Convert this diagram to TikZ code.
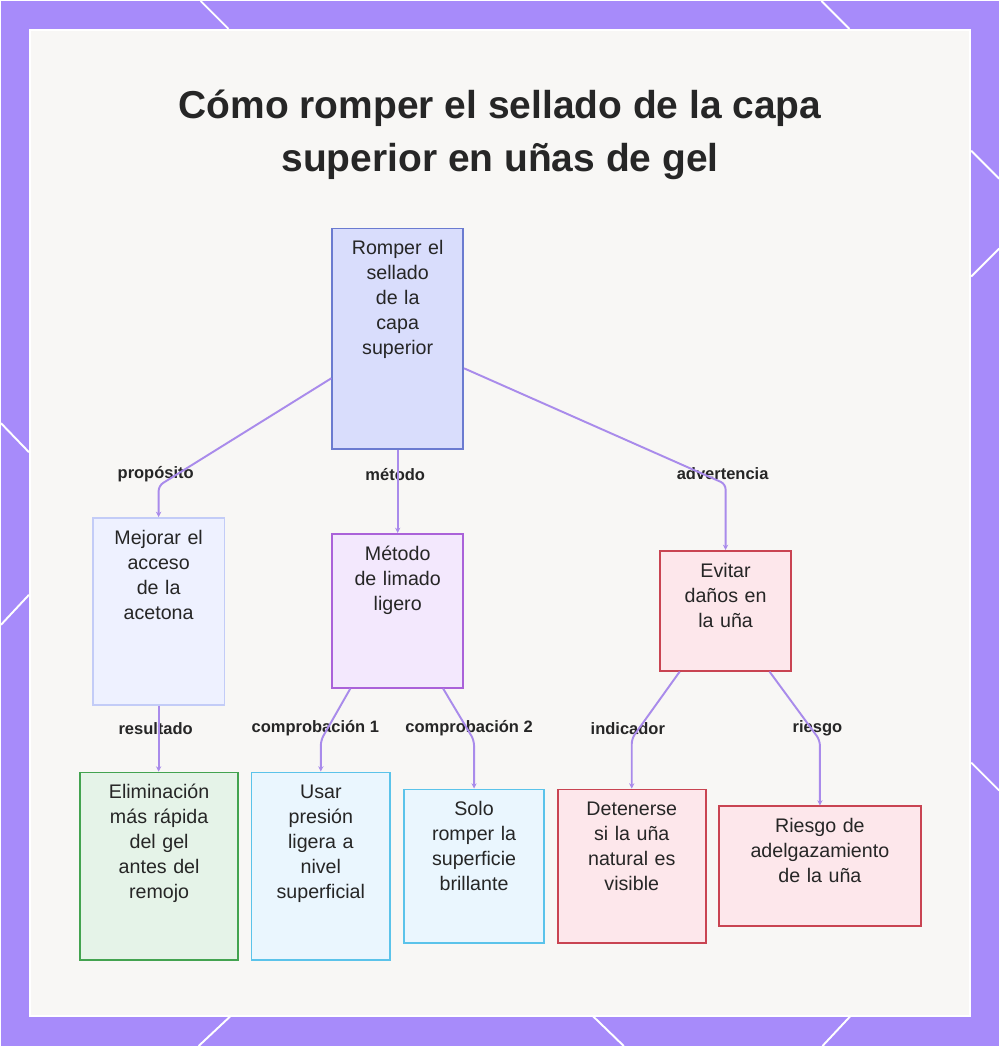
\documentclass[tikz,border=0pt]{standalone}
\usepackage{fontspec}
\setmainfont{Liberation Sans}
\usetikzlibrary{positioning, arrows.meta, calc}

\definecolor{frame}{HTML}{A78BFA}
\definecolor{panel}{HTML}{F8F7F5}
\definecolor{lilac}{HTML}{A98BEB}
\definecolor{ink}{HTML}{262626}
\definecolor{rootfill}{HTML}{D9DDFC}
\definecolor{rootline}{HTML}{6B7BD0}
\definecolor{palefill}{HTML}{EEF1FF}
\definecolor{paleline}{HTML}{C3CCF7}
\definecolor{violetfill}{HTML}{F3E8FD}
\definecolor{violetline}{HTML}{AA62D9}
\definecolor{redfill}{HTML}{FDE7EB}
\definecolor{redline}{HTML}{C94452}
\definecolor{greenfill}{HTML}{E5F3E8}
\definecolor{greenline}{HTML}{43A350}
\definecolor{cyanfill}{HTML}{EAF6FE}
\definecolor{cyanline}{HTML}{5BC3EA}

\begin{document}
\begin{tikzpicture}[
  x=0.02cm, y=-0.02cm,
  every node/.style={font=\fontsize{11.2pt}{14.2pt}\selectfont, text=ink},
  box/.style={draw, line width=1.1pt, anchor=north west, align=center,
    inner xsep=0pt, inner ysep=0pt, text height=0.53cm},
  rootnode/.style={box, fill=rootfill, draw=rootline},
  palenode/.style={box, fill=palefill, draw=paleline},
  violetnode/.style={box, fill=violetfill, draw=violetline},
  rednode/.style={box, fill=redfill, draw=redline},
  greennode/.style={box, fill=greenfill, draw=greenline},
  cyannode/.style={box, fill=cyanfill, draw=cyanline},
  tagnode/.style={font=\fontsize{9.4pt}{11pt}\selectfont\bfseries, inner sep=2pt},
  lilacedge/.style={draw=lilac, line width=1.1pt, rounded corners=3pt,
    -{Stealth[length=3pt, width=3pt]}},
  deco/.style={draw=white, line width=1.1pt}
]

% frame and panel
\fill[frame] (0,0) rectangle (1000,1047);
\foreach \xa/\ya/\xb/\yb in {200/0/228/28, 822/0/850/28, 972/150/1000/178,
    972/276/1000/248, 972/763/1000/791, 0/423/28/452, 28/595/0/625,
    230/1017/198/1047, 593/1017/624/1047, 851/1017/823/1047}
  \draw[deco] (\xa,\ya) -- (\xb,\yb);
\draw[fill=panel, draw=white, line width=1pt] (29,29) rectangle (971,1017);

% title
\node[font=\fontsize{22.2pt}{30pt}\selectfont\bfseries, align=center] (title) at (500,134)
  {Cómo romper el sellado de la capa\\superior en uñas de gel};

% boxes
\node[rootnode, text width=2.62cm, text depth=3.89cm] (root) at (331,227)
  {Romper el\\sellado\\de la\\capa\\superior};
\node[palenode, text width=2.64cm, text depth=3.21cm] (mejorar) at (91,517)
  {Mejorar el\\acceso\\de la\\acetona};
\node[violetnode, text width=2.62cm, text depth=2.55cm] (metodo) at (331,533)
  {Método\\de limado\\ligero};
\node[rednode, text width=2.64cm, text depth=1.87cm] (evitar) at (659,550)
  {Evitar\\daños en\\la uña};
\node[greennode, text width=3.18cm, text depth=3.23cm] (elim) at (78,772)
  {Eliminación\\más rápida\\del gel\\antes del\\remojo};
\node[cyannode, text width=2.78cm, text depth=3.23cm] (usar) at (250,772)
  {Usar\\presión\\ligera a\\nivel\\superficial};
\node[cyannode, text width=2.80cm, text depth=2.55cm] (solo) at (403,789)
  {Solo\\romper la\\superficie\\brillante};
\node[rednode, text width=2.96cm, text depth=2.55cm] (detener) at (557,789)
  {Detenerse\\si la uña\\natural es\\visible};
\node[rednode, text width=4.06cm, text depth=1.87cm] (riesgo) at (718,806)
  {Riesgo de\\adelgazamiento\\de la uña};

% edge labels
\node[tagnode] (purpose) at (155,474) {propósito};
\node[tagnode] (method) at (395,474) {método};
\node[tagnode] (warn) at (723,474) {advertencia};
\node[tagnode] (result) at (155,729) {resultado};
\node[tagnode] (check1) at (315,729) {comprobación 1};
\node[tagnode] (check2) at (469,729) {comprobación 2};
\node[tagnode] (ind) at (628,729) {indicador};
\node[tagnode] (risk) at (818,729) {riesgo};

% edges
\draw[lilacedge] (root.west |- 0,378) -- (mejorar.north |- purpose.south) -- (mejorar.north);
\draw[lilacedge] (root.south) -- (metodo.north);
\draw[lilacedge] (root.east |- 0,368) -- (evitar.north |- warn.south) -- (evitar.north);
\draw[lilacedge] (mejorar.south) -- (mejorar.south |- elim.north);
\draw[lilacedge] (metodo.south -| 350,0) -- (usar.north |- check1.south) -- (usar.north);
\draw[lilacedge] (metodo.south -| 443,0) -- (solo.north |- check2.south) -- (solo.north);
\draw[lilacedge] (evitar.south -| 680,0) -- (detener.north |- ind.south) -- (detener.north);
\draw[lilacedge] (evitar.south -| 770,0) -- (riesgo.north |- risk.south) -- (riesgo.north);

\end{tikzpicture}
\end{document}
